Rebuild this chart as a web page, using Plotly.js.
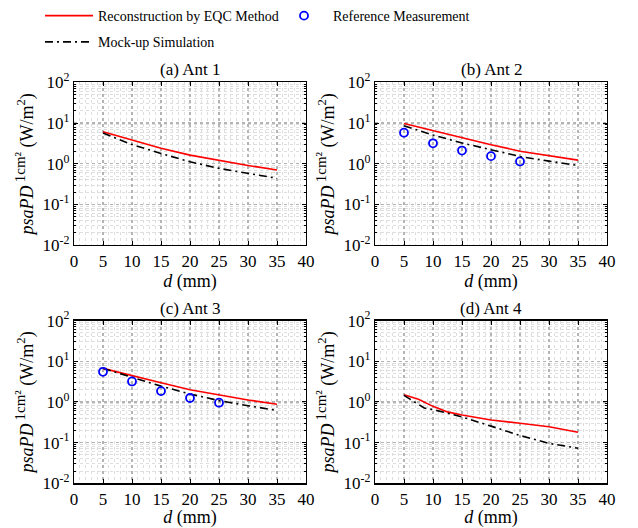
<!DOCTYPE html>
<html>
<head>
<meta charset="utf-8">
<script src="https://cdn.plot.ly/plotly-3.0.1.min.js"></script>
<style>html,body{margin:0;padding:0;background:#fff;}#chart{width:638px;height:528px;}</style>
</head>
<body>
<div id="chart"></div>
<script>
// ---- data ----
const distA = [5, 10, 15, 20, 25, 30, 35];
const antA_recon = [6.15, 3.78, 2.41, 1.63, 1.2, 0.91, 0.70];
const antA_mock  = [5.7, 2.96, 1.79, 1.12, 0.77, 0.57, 0.44];

const distB = [5, 10, 15, 20, 25, 30, 35];
const antB_recon = [9.8, 6.6, 4.3, 2.95, 2.04, 1.57, 1.23];
const antB_mock  = [8.6, 5.1, 3.25, 2.24, 1.51, 1.16, 0.91];
const measDist = [5, 10, 15, 20, 25];
const antB_meas  = [5.8, 3.19, 2.11, 1.54, 1.14];

const distC = [5, 10, 15, 20, 25, 30, 35];
const antC_recon = [6.7, 4.4, 2.96, 2.0, 1.48, 1.12, 0.88];
const antC_mock  = [6.7, 4.0, 2.45, 1.57, 1.08, 0.81, 0.62];
const antC_meas  = [5.5, 3.19, 1.85, 1.25, 0.96];

const distD_recon = [5, 7.5, 10, 12.5, 15, 20, 25, 30, 35];
const antD_recon  = [1.51, 1.17, 0.78, 0.57, 0.48, 0.36, 0.30, 0.245, 0.18];
const distD_mock  = [5, 8.5, 10, 15, 20, 25, 30, 35];
const antD_mock   = [1.45, 0.71, 0.65, 0.43, 0.255, 0.15, 0.096, 0.073];

const panelTitles = ['(a) Ant 1', '(b) Ant 2', '(c) Ant 3', '(d) Ant 4'];
const xTickVals = [0, 5, 10, 15, 20, 25, 30, 35, 40];
const yTickVals = [0.01, 0.1, 1, 10, 100];
const yTickText = ['10<sup>-2</sup>', '10<sup>-1</sup>', '10<sup>0</sup>', '10<sup>1</sup>', '10<sup>2</sup>'];
const seriesNames = ['Reconstruction by EQC Method', 'Reference Measurement', 'Mock-up Simulation'];

// minor tick positions on the log axis (2..9 per decade)
const yMinorVals = [];
[0.01, 0.1, 1, 10].forEach(dec => { for (let k = 2; k <= 9; k++) yMinorVals.push(+(dec * k).toPrecision(3)); });

// ---- styling ----
const FONT = '"Liberation Serif", "Times New Roman", serif';
const redLine = {color: '#ff0000', width: 1.6};
const blackLine = {color: '#000000', width: 1.6, dash: '8px,4px,2px,4px'};
const circ = {symbol: 'circle-open', size: 8, color: '#0000ff', line: {width: 1.8, color: '#0000ff'}};

function recon(x, y, ax, show) {
  return {x: x, y: y, xaxis: 'x' + ax, yaxis: 'y' + ax, type: 'scatter', mode: 'lines',
          line: redLine, name: seriesNames[0], legendgroup: 'r', showlegend: show, legend: 'legend'};
}
function mock(x, y, ax, show) {
  return {x: x, y: y, xaxis: 'x' + ax, yaxis: 'y' + ax, type: 'scatter', mode: 'lines',
          line: blackLine, name: seriesNames[2], legendgroup: 'm', showlegend: show, legend: 'legend'};
}
function meas(x, y, ax, show) {
  return {x: x, y: y, xaxis: 'x' + ax, yaxis: 'y' + ax, type: 'scatter', mode: 'markers',
          marker: circ, name: seriesNames[1], legendgroup: 'e', showlegend: show, legend: 'legend2'};
}

const data = [
  recon(distA, antA_recon, '', true),
  mock(distA, antA_mock, '', true),
  meas(measDist, antB_meas, '2', true),
  recon(distB, antB_recon, '2', false),
  mock(distB, antB_mock, '2', false),
  recon(distC, antC_recon, '3', false),
  mock(distC, antC_mock, '3', false),
  meas(measDist, antC_meas, '3', false),
  recon(distD_recon, antD_recon, '4', false),
  mock(distD_mock, antD_mock, '4', false)
];

const W = 638, H = 528;
const cols = [[74 / W, 306 / W], [375 / W, 607 / W]];
const rows = [[1 - 243 / H, 1 - 79 / H], [1 - 483 / H, 1 - 319 / H]];

function xAxis(dom, anchor) {
  return {domain: dom, anchor: anchor, range: [0, 40], tickmode: 'array', tickvals: xTickVals,
    ticks: 'inside', ticklen: 4, tickcolor: '#000', showline: true, linecolor: '#000', linewidth: 1.2,
    mirror: 'ticks', zeroline: false, showgrid: true, gridcolor: '#b4b4b4', gridwidth: 1.2, griddash: 'dot',
    minor: {dtick: 1, tick0: 0, showgrid: true, gridcolor: '#dedede', gridwidth: 1, griddash: 'dot', ticks: ''},
    tickfont: {family: FONT, size: 17, color: '#000'},
    title: {text: '<i>d</i> (mm)', font: {family: FONT, size: 18, color: '#000'}, standoff: 3}};
}
function yAxis(dom, anchor) {
  return {domain: dom, anchor: anchor, type: 'log', range: [-2, 2], tickmode: 'array',
    tickvals: yTickVals, ticktext: yTickText,
    ticks: 'inside', ticklen: 4, tickcolor: '#000', showline: true, linecolor: '#000', linewidth: 1.2,
    mirror: 'ticks', zeroline: false, showgrid: true, gridcolor: '#b4b4b4', gridwidth: 1.2, griddash: 'dot',
    minor: {tickmode: 'array', tickvals: yMinorVals, showgrid: true, gridcolor: '#dedede', gridwidth: 1, griddash: 'dot',
            ticks: 'inside', ticklen: 2, tickcolor: '#000'},
    tickfont: {family: FONT, size: 17, color: '#000'},
    title: {text: '<i>psaPD</i><sup> <span style="font-size:15px">1cm²</span></sup> (W/m<sup>2</sup>)',
            font: {family: FONT, size: 18, color: '#000'}, standoff: 4}};
}

const legendFont = {family: FONT, size: 14, color: '#000'};
const layout = {
  width: W, height: H, margin: {l: 0, r: 0, t: 0, b: 0},
  paper_bgcolor: '#fff', plot_bgcolor: '#fff',
  font: {family: FONT, size: 16, color: '#000'},
  xaxis: xAxis(cols[0], 'y'), yaxis: yAxis(rows[0], 'x'),
  xaxis2: xAxis(cols[1], 'y2'), yaxis2: yAxis(rows[0], 'x2'),
  xaxis3: xAxis(cols[0], 'y3'), yaxis3: yAxis(rows[1], 'x3'),
  xaxis4: xAxis(cols[1], 'y4'), yaxis4: yAxis(rows[1], 'x4'),
  showlegend: true,
  legend: {orientation: 'v', x: 40 / W, xanchor: 'left', y: 1 + 4 / H, yanchor: 'top',
    itemwidth: 48, traceorder: 'grouped', tracegroupgap: 5,
    font: legendFont, bgcolor: 'rgba(0,0,0,0)', borderwidth: 0},
  legend2: {orientation: 'v', x: 275 / W, xanchor: 'left', y: 1 + 4 / H, yanchor: 'top',
    itemwidth: 48, font: legendFont, bgcolor: 'rgba(0,0,0,0)', borderwidth: 0},
  annotations: panelTitles.map((t, i) => ({
    text: t, showarrow: false, xref: 'paper', yref: 'paper',
    x: (cols[i % 2][0] + cols[i % 2][1]) / 2, xanchor: 'center',
    y: rows[Math.floor(i / 2)][1], yanchor: 'bottom', yshift: 1,
    font: {family: FONT, size: 17, color: '#000'}
  }))
};

Plotly.newPlot('chart', data, layout, {staticPlot: true, displayModeBar: false});
</script>
</body>
</html>
